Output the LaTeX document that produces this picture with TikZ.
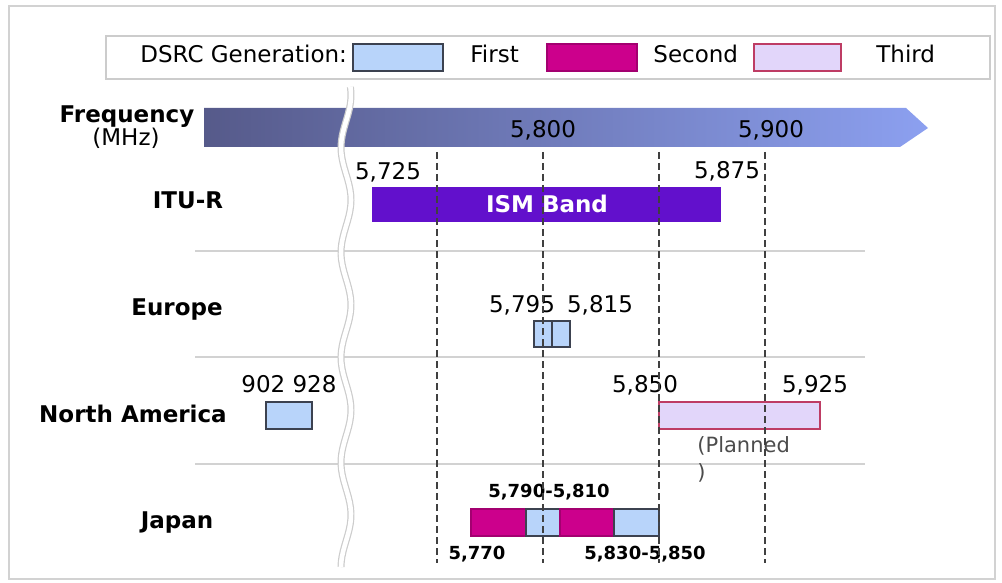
\documentclass[tikz,border=0pt]{standalone}
\usepackage{fontspec}
\setmainfont{DejaVu Sans}
\usepackage{xcolor}
\usetikzlibrary{positioning}

\definecolor{ismpurple}{RGB}{98,16,204}
\definecolor{genfirst}{RGB}{184,212,250}
\definecolor{gensecond}{RGB}{204,0,140}
\definecolor{genthird}{RGB}{226,214,250}
\definecolor{thirdedge}{RGB}{190,60,100}
\definecolor{edgegray}{RGB}{60,66,80}
\definecolor{arrowdark}{RGB}{86,90,138}
\definecolor{arrowlight}{RGB}{140,160,240}

\newcommand\breakwave{plot[domain=87:567, samples=90, variable=\t] ({346+5*cos(3.43*(\t-200))}, \t)}

\tikzset{
  region/.style={font=\bfseries\fontsize{11.5}{13}\selectfont, anchor=base, inner sep=0pt},
  freq/.style={font=\fontsize{11.5}{13}\selectfont, anchor=base, inner sep=0pt},
  jpfreq/.style={font=\bfseries\fontsize{9}{11}\selectfont, anchor=base, inner sep=0pt},
  firstgen/.style={fill=genfirst, draw=edgegray, line width=0.6pt},
  secondgen/.style={fill=gensecond, draw=gensecond!80!black, line width=0.6pt},
  thirdgen/.style={fill=genthird, draw=thirdedge, line width=0.6pt},
  sepline/.style={draw=gray!35, line width=0.6pt},
  guide/.style={draw=black!75, line width=0.6pt, dash pattern=on 3.5pt off 2pt}
}

\begin{document}
\begin{tikzpicture}[x=0.5pt, y=-0.5pt]
    \useasboundingbox (0,0) rectangle (1002,583);
    % outer frame
    \draw[gray!35, line width=1pt] (9,6) rectangle (995,579);

    % legend
    \draw[gray!40, line width=0.8pt, fill=white] (106,36) rectangle (990,79);
    \node[freq, anchor=base west] (legtitle) at (140,63) {DSRC Generation:};
    \draw[firstgen] (353,44) rectangle (443,71);
    \node[freq, anchor=base west] (legfirst) at (470,63) {First};
    \draw[secondgen] (547,44) rectangle (637,71);
    \node[freq, anchor=base west] (legsecond) at (653,63) {Second};
    \draw[thirdgen] (754,44) rectangle (841,71);
    \node[freq, anchor=base west] (legthird) at (876,63) {Third};

    % frequency axis
    \shade[left color=arrowdark, right color=arrowlight] (204,108) -- (906,108) -- (928,128) -- (900,147) -- (204,147) -- cycle;
    \node[region] (freqlbl) at (127,123) {Frequency};
    \node[freq] (mhz) at (126,146) {(MHz)};
    \node[freq] (f5800) at (543,138) {5,800};
    \node[freq] (f5900) at (771,138) {5,900};

    % row separators
    \foreach \y in {251,357,464}
        \draw[sepline] (195,\y) -- (865,\y);

    % axis break
    \draw[gray!40, line width=3.5pt] \breakwave;
    \draw[white, line width=2.3pt] \breakwave;

    % ITU-R
    \fill[ismpurple] (372,187) rectangle (721,222);
    \node[region, text=white] (ism) at (547,213) {ISM Band};
    \node[freq] (f5725) at (388,180) {5,725};
    \node[freq] (f5875) at (727,178) {5,875};
    \node[region] (itur) at (188,208) {ITU-R};

    % Europe
    \draw[firstgen] (534,321) rectangle (552,347);
    \draw[firstgen] (552,321) rectangle (570,347);
    \node[freq] (f5795) at (522,312) {5,795};
    \node[freq] (f5815) at (600,312) {5,815};
    \node[region] (europe) at (177,315) {Europe};

    % North America
    \draw[firstgen] (266,402) rectangle (312,429);
    \node[freq] (f902) at (289,392) {902 928};
    \draw[thirdgen] (659,402) rectangle (820,429);
    \node[freq] (f5850) at (645,392) {5,850};
    \node[freq] (f5925) at (815,392) {5,925};
    \node[freq, anchor=base west, font=\fontsize{10.5}{12}\selectfont, text=black!70] (planned) at (697,452) {(Planned};
    \node[freq, anchor=base west, font=\fontsize{10.5}{12}\selectfont, text=black!70] (plannedend) at (697,479) {)};
    \node[region] (namerica) at (133,422) {North America};

    % Japan
    \draw[secondgen] (471,509) rectangle (526,536);
    \draw[firstgen] (526,509) rectangle (560,536);
    \draw[secondgen] (560,509) rectangle (614,536);
    \draw[firstgen] (614,509) rectangle (659,536);
    \node[jpfreq] (f5790) at (549,497) {5,790-5,810};
    \node[jpfreq] (f5770) at (477,559) {5,770};
    \node[jpfreq] (f5830) at (645,559) {5,830-5,850};
    \node[region] (japan) at (177,528) {Japan};

    % guide lines
    \foreach \x in {437,543,659,765}
        \draw[guide] (\x,152) -- (\x,563);
\end{tikzpicture}
\end{document}
